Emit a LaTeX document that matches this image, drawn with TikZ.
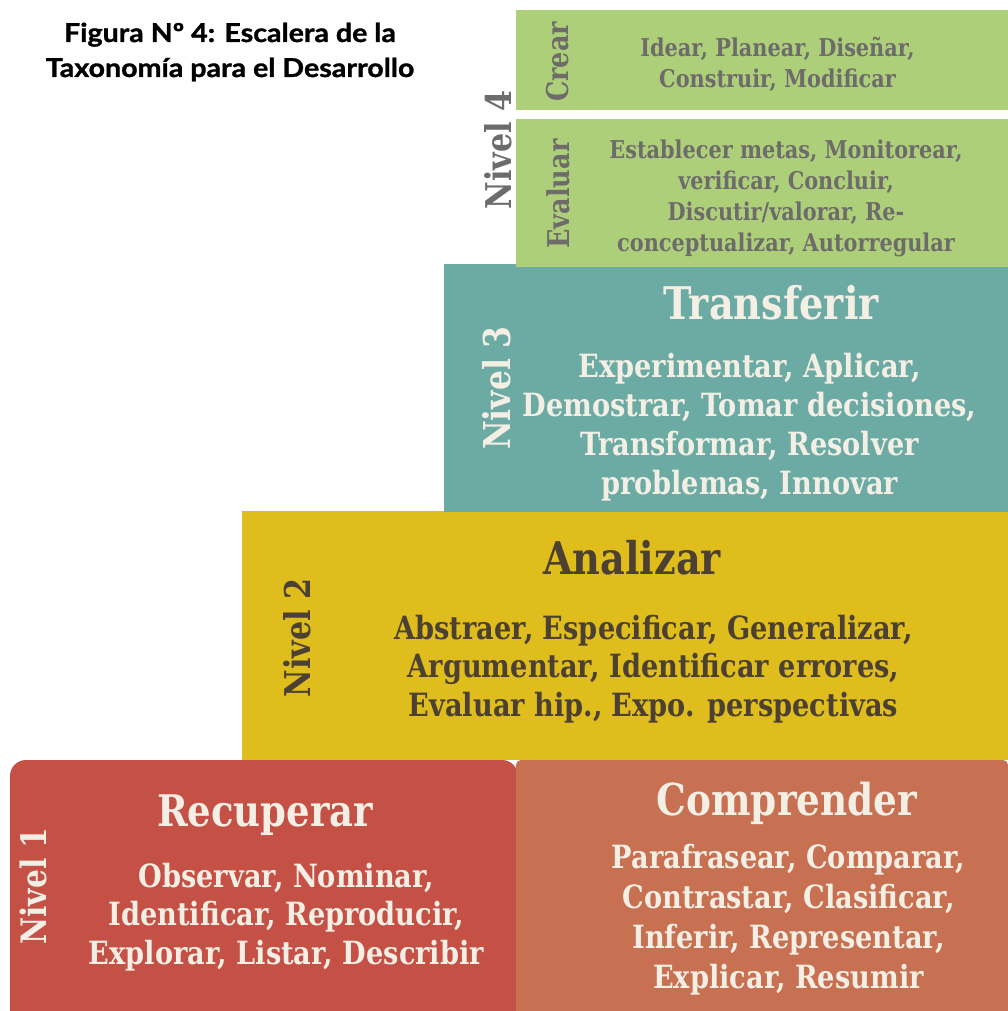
\documentclass[tikz,border=0pt]{standalone}
\usepackage{fontspec}
\setmainfont{DejaVu Serif}
\newfontfamily\titlefont[FakeStretch=1.1,FakeBold=1.2]{Lato}
\newfontfamily\serA[FakeStretch=0.85]{DejaVu Serif}
\definecolor{lgreen}{RGB}{174,207,122}
\definecolor{teal1}{RGB}{108,171,164}
\definecolor{yell}{RGB}{222,189,29}
\definecolor{red1}{RGB}{197,80,70}
\definecolor{terra}{RGB}{200,112,82}
\definecolor{gtext}{RGB}{110,108,106}
\definecolor{cream}{RGB}{244,239,228}
\definecolor{dbrown}{RGB}{75,64,49}
\tikzset{
  box/.style={rectangle,anchor=north west,inner sep=0pt,outer sep=0pt},
  txt/.style={align=center,inner sep=0pt},
  vlab/.style={rotate=90,inner sep=0pt},
}
\newcommand{\fs}[2]{\serA\bfseries\fontsize{#1}{#2}\selectfont}
\begin{document}
\begin{tikzpicture}[x=1pt,y=-1pt]
\useasboundingbox (0,0) rectangle (1008,1011);
\fill[white] (0,0) rectangle (1008,1011);
% title
\node[txt,font=\titlefont\bfseries\fontsize{26}{35}\selectfont] (title) at (230,52)
  {Figura Nº 4: Escalera de la\\Taxonomía para el Desarrollo};
% boxes
\node[box,fill=yell,minimum width=766pt,minimum height=249pt] (analizar) at (242,511) {};
\node[box,fill=teal1,minimum width=564pt,minimum height=248pt] (transferir) at (444,264) {};
\node[box,fill=lgreen,minimum width=492pt,minimum height=100pt] (crear) at (516,10) {};
\node[box,fill=lgreen,minimum width=492pt,minimum height=148pt] (evaluar) at (516,119) {};
\fill[red1,rounded corners=16pt] (10,1011) -- (10,760) -- (518,760) [sharp corners] -- (518,1011) -- cycle;
\fill[terra,rounded corners=5pt] (516,1011) -- (516,760) -- (1008,760) [sharp corners] -- (1008,1011) -- cycle;
% level 4
\node[vlab,text=gtext,font=\fs{35.5}{36}] (n4) at (498,150) {Nivel 4};
\node[vlab,text=gtext,font=\fs{30}{30}] (lcrear) at (558,62) {Crear};
\node[vlab,text=gtext,font=\fs{30}{30}] (levaluar) at (558,194) {Evaluar};
\node[txt,text=gtext,font=\fs{24.5}{31}] (tcrear) at (777.5,64)
  {Idear, Planear, Diseñar,\\Construir, Modificar};
\node[txt,text=gtext,font=\fs{24.5}{31}] (tevaluar) at (786,198.5)
  {Establecer metas, Monitorear,\\verificar, Concluir,\\Discutir/valorar, Re-\\conceptualizar, Autorregular};
% level 3
\node[vlab,text=cream,font=\fs{37}{37}] (n3) at (497,388) {Nivel 3};
\node[txt,text=cream,font=\fs{45}{45}] (htransferir) at (771,303) {Transferir};
\node[txt,text=cream,font=\fs{32}{39}] (ttransferir) at (749.5,427)
  {Experimentar, Aplicar,\\Demostrar, Tomar decisiones,\\Transformar, Resolver\\problemas, Innovar};
% level 2
\node[vlab,text=dbrown,font=\fs{35.5}{36}] (n2) at (297,638) {Nivel 2};
\node[txt,text=dbrown,font=\fs{45}{45}] (hanalizar) at (632,558) {Analizar};
\node[txt,text=dbrown,font=\fs{32}{38.5}] (tanalizar) at (653.5,669)
  {Abstraer, Especificar, Generalizar,\\Argumentar, Identificar errores,\\Evaluar hip., Expo. perspectivas};
% level 1
\node[vlab,text=cream,font=\fs{35}{35}] (n1) at (33,886) {Nivel 1};
\node[txt,text=cream,font=\fs{43.5}{44}] (hrecuperar) at (265,815) {Recuperar};
\node[txt,text=cream,font=\fs{32}{38.5}] (trecuperar) at (286.5,917)
  {Observar, Nominar,\\Identificar, Reproducir,\\Explorar, Listar, Describir};
\node[txt,text=cream,font=\fs{44}{44}] (hcomprender) at (787,803) {Comprender};
\node[txt,text=cream,font=\fs{32}{40}] (tcomprender) at (788.5,920)
  {Parafrasear, Comparar,\\Contrastar, Clasificar,\\Inferir, Representar,\\Explicar, Resumir};
\end{tikzpicture}
\end{document}
